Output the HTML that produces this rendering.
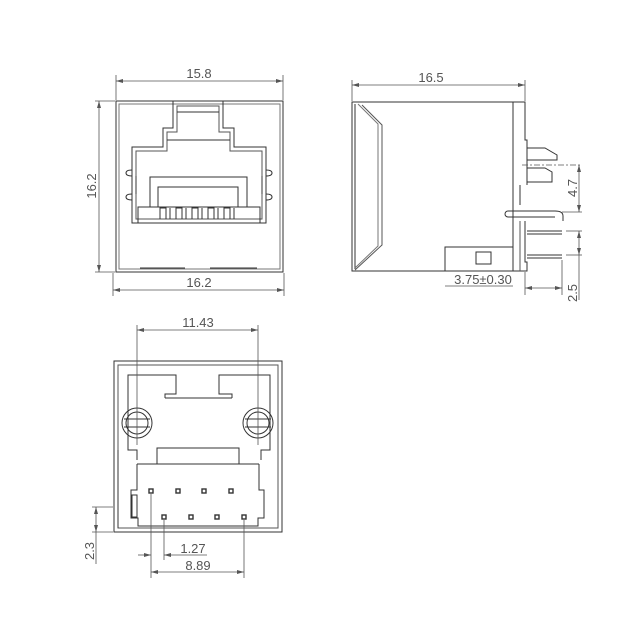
<!DOCTYPE html>
<html><head><meta charset="utf-8"><style>
html,body{margin:0;padding:0;background:#fff}
svg{display:block}
text{font-family:"Liberation Sans",sans-serif;font-size:13px;fill:#555}
</style></head><body>
<svg width="640" height="640" viewBox="0 0 640 640" xmlns="http://www.w3.org/2000/svg">
<g fill="none" stroke="#333" stroke-width="1">
<!-- FRONT VIEW -->
<rect x="116" y="101" width="167" height="171"/>
<rect x="119" y="104" width="161" height="165" stroke="#777"/>
<line x1="140" y1="268" x2="185" y2="268"/>
<line x1="210" y1="268" x2="257" y2="268"/>
<path d="M173 101 V128 H163 V147 H132 V223 H266 V147 H234 V128 H223 V101"/>
<path d="M177 106 V132 H167 V151 H136 V219 H262 V151 H230 V132 H219 V106 Z" stroke="#555"/>
<line x1="177" y1="112" x2="219" y2="112"/>
<line x1="167" y1="140" x2="230" y2="140"/>
<path d="M132 170 q-6 0 -6 3 q0 3 6 3 M132 194 q-6 0 -6 3 q0 3 6 3 M266 170 q6 0 6 3 q0 3 -6 3 M266 194 q6 0 6 3 q0 3 -6 3"/>
<line x1="136" y1="176" x2="136" y2="194"/><line x1="262" y1="176" x2="262" y2="194"/>
<rect x="138" y="207" width="122" height="16"/>
<path d="M150 207 V177 H247 V207 M158 207 V187 H238 V207"/>
<path d="M160 219 V208 H166 V219 M170 219 V208 M176 219 V208 H182 V219 M186 219 V208 M192 219 V208 H198 V219 M202 219 V208 M208 219 V208 H214 V219 M218 219 V208 M224 219 V208 H230 V219 M234 219 V208"/>
<g stroke="#555" stroke-width="0.8">
<line x1="116" y1="75" x2="116" y2="100"/><line x1="283" y1="75" x2="283" y2="100"/>
<line x1="116" y1="81" x2="283" y2="81"/>
<line x1="95" y1="101" x2="115" y2="101"/><line x1="95" y1="272" x2="115" y2="272"/>
<line x1="99" y1="101" x2="99" y2="272"/>
<line x1="113" y1="273" x2="113" y2="296"/><line x1="284" y1="273" x2="284" y2="296"/>
<line x1="113" y1="290" x2="284" y2="290"/>
</g>
<!-- SIDE VIEW -->
<rect x="352" y="102" width="161" height="169"/>
<line x1="355" y1="104" x2="355" y2="269"/>
<path d="M362 105 L382 125 V245 L355 270" stroke="#555"/>
<path d="M358 104 L378 124 V246 L355 268" stroke="#777"/>
<path d="M513 102 H525 V140 H527 V185"/>
<path d="M527 148 H545 L557 155 V160 H527 M527 168 H545 L552 172 V182 H527"/>
<path d="M520 185 V205"/>
<path d="M508 211 H555 Q563 211 563 216 V221 M508 217 H555"/>
<path d="M508 211 a3 3 0 0 0 0 6"/>
<path d="M525 221 V262 H527 V271 H513"/>
<path d="M520 221 V271" stroke="#555"/>
<line x1="527" y1="231" x2="562" y2="231"/><line x1="527" y1="234" x2="562" y2="234"/>
<line x1="527" y1="255" x2="562" y2="255"/><line x1="527" y1="258" x2="562" y2="258"/>
<rect x="445" y="247" width="68" height="24"/>
<rect x="476" y="252" width="15" height="12"/>
<g stroke="#555" stroke-width="0.8">
<line x1="352" y1="80" x2="352" y2="101"/><line x1="525" y1="80" x2="525" y2="101"/>
<line x1="352" y1="85" x2="525" y2="85"/>
<line x1="522" y1="165" x2="582" y2="165" stroke-dasharray="6 2 2 2"/>
<line x1="562" y1="212" x2="582" y2="212"/>
<line x1="579" y1="165" x2="579" y2="212"/>
<line x1="566" y1="231" x2="582" y2="231"/><line x1="566" y1="255" x2="582" y2="255"/>
<line x1="579" y1="231" x2="579" y2="300"/>
<line x1="445" y1="286" x2="513" y2="286"/>
<line x1="525" y1="272" x2="525" y2="295"/><line x1="562" y1="260" x2="562" y2="295"/>
<line x1="525" y1="288" x2="562" y2="288"/>
</g>
<!-- BOTTOM VIEW -->
<rect x="114" y="361" width="168" height="171"/>
<rect x="118" y="365" width="160" height="163" stroke="#555"/>
<path d="M128 398 V375 H176 V394 H165 V398 M270 398 V375 H219 V394 H232 V398"/>
<line x1="165" y1="398" x2="232" y2="398"/>
<path d="M128 398 V450 H137 V460 M270 398 V450 H261 V460"/>
<rect x="157" y="448" width="82" height="16"/>
<path d="M137 464 H259"/>
<path d="M137 464 V490 H131 V518 H138 V526 H258 V518 H264 V490 H259 V464"/>
<rect x="132" y="495" width="5" height="22"/>
<line x1="118" y1="450" x2="118" y2="528"/>
<circle cx="137" cy="423" r="15"/><circle cx="137" cy="423" r="11"/>
<circle cx="258" cy="423" r="15"/><circle cx="258" cy="423" r="11"/>
<path d="M124 419 H150 M124 427 H150 M245 419 H271 M245 427 H271"/>
<g stroke-width="1.4">
<rect x="149" y="489" width="4" height="4"/><rect x="176" y="489" width="4" height="4"/><rect x="202" y="489" width="4" height="4"/><rect x="229" y="489" width="4" height="4"/>
<rect x="162" y="515" width="4" height="4"/><rect x="189" y="515" width="4" height="4"/><rect x="215" y="515" width="4" height="4"/><rect x="242" y="515" width="4" height="4"/>
</g>
<g stroke="#555" stroke-width="0.8">
<line x1="137" y1="325" x2="137" y2="445"/><line x1="258" y1="325" x2="258" y2="445"/>
<line x1="137" y1="330" x2="258" y2="330"/>
<line x1="151" y1="494" x2="151" y2="578"/><line x1="164" y1="520" x2="164" y2="560"/>
<line x1="244" y1="520" x2="244" y2="578"/>
<line x1="138" y1="555" x2="151" y2="555"/><line x1="164" y1="555" x2="207" y2="555"/>
<line x1="151" y1="572" x2="244" y2="572"/>
<line x1="92" y1="507" x2="113" y2="507"/><line x1="92" y1="532" x2="113" y2="532"/>
<line x1="96" y1="507" x2="96" y2="564"/>
</g>
</g>
<g fill="#555">
<path d="M116 81 l7 -2 v4z M283 81 l-7 -2 v4z M99 101 l-2 7 h4z M99 272 l-2 -7 h4z M113 290 l7 -2 v4z M284 290 l-7 -2 v4z"/>
<path d="M352 85 l7 -2 v4z M525 85 l-7 -2 v4z M579 165 l-2 7 h4z M579 212 l-2 -7 h4z M579 231 l-2 7 h4z M579 255 l-2 -7 h4z M525 288 l7 -2 v4z M562 288 l-7 -2 v4z"/>
<path d="M137 330 l7 -2 v4z M258 330 l-7 -2 v4z M151 555 l-7 -2 v4z M164 555 l7 -2 v4z M151 572 l7 -2 v4z M244 572 l-7 -2 v4z M96 507 l-2 7 h4z M96 532 l-2 -7 h4z"/>
</g>
<text x="199" y="78" text-anchor="middle">15.8</text>
<text x="199" y="287" text-anchor="middle">16.2</text>
<text transform="translate(96,186) rotate(-90)" text-anchor="middle">16.2</text>
<text x="431" y="82" text-anchor="middle">16.5</text>
<text transform="translate(577,188) rotate(-90)" text-anchor="middle">4.7</text>
<text x="483" y="284" text-anchor="middle">3.75±0.30</text>
<text transform="translate(577,293) rotate(-90)" text-anchor="middle">2.5</text>
<text x="198" y="327" text-anchor="middle">11.43</text>
<text x="193" y="553" text-anchor="middle">1.27</text>
<text x="198" y="570" text-anchor="middle">8.89</text>
<text transform="translate(94,551) rotate(-90)" text-anchor="middle">2.3</text>
</svg>
</body></html>
